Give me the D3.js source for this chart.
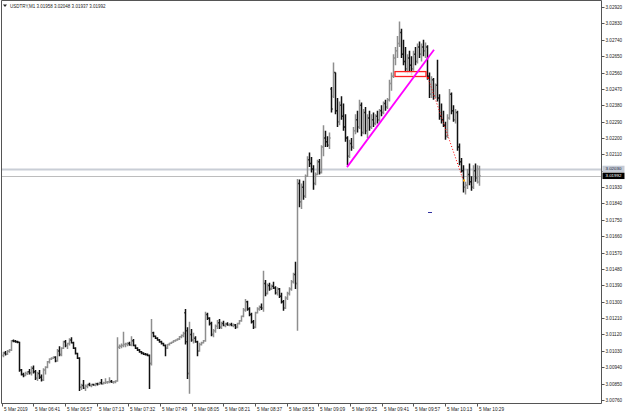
<!DOCTYPE html>
<html><head><meta charset="utf-8">
<script src="https://cdn.jsdelivr.net/npm/d3@7"></script>
<style>html,body{margin:0;padding:0;background:#fff;overflow:hidden}</style>
</head><body>
<svg id="c" width="625" height="416"></svg>
<script>
const symbolTitle = "USDTRY,M1";
const titleValues = ["3.01958", "3.02048", "3.01937", "3.01992"];
const timeLabels = ["5 Mar 2019","5 Mar 06:41","5 Mar 06:57","5 Mar 07:13","5 Mar 07:32","5 Mar 07:49","5 Mar 08:05","5 Mar 08:21","5 Mar 08:37","5 Mar 08:53","5 Mar 09:09","5 Mar 09:25","5 Mar 09:41","5 Mar 09:57","5 Mar 10:13","5 Mar 10:29"];
const priceTicks = ["3.02920","3.02830","3.02740","3.02650","3.02560","3.02470","3.02380","3.02290","3.02200","3.02110","3.02020","3.01930","3.01840","3.01750","3.01660","3.01570","3.01480","3.01390","3.01300","3.01210","3.01120","3.01030","3.00940","3.00850","3.00760"];

const opens = [
3.01005,3.01018,3.01012,3.01028,3.01035,3.01085,3.01083,3.01080,3.01078,3.00925,
3.00900,3.00895,3.00905,3.00915,3.00910,3.00935,3.00915,3.00880,3.00905,3.00885,
3.00870,3.00925,3.00940,3.00970,3.00985,3.00990,3.00995,3.00975,3.01030,3.01010,
3.01045,3.01080,3.01060,3.01070,3.01090,3.01075,3.01045,3.01015,3.00990,3.00830,
3.00840,3.00825,3.00835,3.00845,3.00840,3.00845,3.00842,3.00850,3.00848,3.00855,
3.00850,3.00855,3.00858,3.00860,3.00862,3.00858,3.00860,3.00865,3.01050,3.01055,
3.01060,3.01065,3.01068,3.01070,3.01062,3.01085,3.01060,3.01045,3.01035,3.01025,
3.01018,3.01012,3.01010,3.01005,3.00960,3.01130,3.01110,3.01100,3.01090,3.01080,
3.01070,3.01060,3.01045,3.01065,3.01072,3.01078,3.01085,3.01090,3.01095,3.01108,
3.01115,3.01240,3.01140,3.00905,3.01120,3.01090,3.01100,3.01080,3.01030,3.01065,
3.01075,3.01085,3.01230,3.01210,3.01180,3.01120,3.01140,3.01165,3.01185,3.01160,
3.01180,3.01170,3.01178,3.01172,3.01175,3.01170,3.01172,3.01160,3.01180,3.01195,
3.01220,3.01255,3.01300,3.01260,3.01230,3.01190,3.01160,3.01240,3.01260,3.01270,
3.01265,3.01400,3.01345,3.01390,3.01370,3.01385,3.01375,3.01350,3.01370,3.01330,
3.01300,3.01265,3.01320,3.01345,3.01370,3.01410,3.01450,3.01400,3.01950,3.01850,
3.01930,3.01880,3.01990,3.02080,3.02060,3.02030,3.01950,3.02000,3.02070,3.02010,
3.02150,3.02200,3.02180,3.02160,3.02470,3.02430,3.02560,3.02350,3.02290,3.02380,
3.02320,3.02260,3.02200,3.02100,3.02170,3.02150,3.02240,3.02300,3.02260,3.02380,
3.02230,3.02340,3.02240,3.02310,3.02260,3.02300,3.02280,3.02320,3.02300,3.02350,
3.02340,3.02390,3.02370,3.02410,3.02500,3.02540,3.02640,3.02680,3.02720,3.02780,
3.02660,3.02620,3.02580,3.02640,3.02600,3.02580,3.02660,3.02620,3.02700,3.02660,
3.02700,3.02680,3.02700,3.02540,3.02440,3.02520,3.02430,3.02490,3.02420,3.02320,
3.02300,3.02270,3.02210,3.02310,3.02440,3.02350,3.02300,3.02340,3.02150,3.02070,
3.02020,3.01930,3.01940,3.02000,3.01960,3.01930,3.02020,3.01980,3.01958];
const highs = [
3.01025,3.01030,3.01035,3.01040,3.01090,3.01092,3.01090,3.01085,3.01080,3.00930,
3.00910,3.00915,3.00920,3.00930,3.00945,3.00950,3.00925,3.00915,3.00925,3.00900,
3.00935,3.00945,3.00975,3.00990,3.00995,3.01000,3.01000,3.01040,3.01055,3.01050,
3.01085,3.01090,3.01075,3.01100,3.01105,3.01080,3.01050,3.01020,3.00995,3.00850,
3.00870,3.00845,3.00850,3.00855,3.00850,3.00850,3.00855,3.00855,3.00860,3.00875,
3.00860,3.00880,3.00865,3.00885,3.00870,3.00865,3.00868,3.01105,3.01065,3.01070,
3.01135,3.01075,3.01078,3.01080,3.01110,3.01095,3.01065,3.01050,3.01040,3.01030,
3.01022,3.01018,3.01015,3.01010,3.01205,3.01135,3.01115,3.01105,3.01095,3.01085,
3.01075,3.01065,3.01068,3.01075,3.01080,3.01088,3.01092,3.01100,3.01112,3.01120,
3.01135,3.01260,3.01160,3.01190,3.01150,3.01130,3.01110,3.01085,3.01075,3.01080,
3.01090,3.01245,3.01240,3.01215,3.01190,3.01150,3.01175,3.01200,3.01205,3.01190,
3.01195,3.01185,3.01188,3.01182,3.01185,3.01180,3.01178,3.01185,3.01200,3.01225,
3.01265,3.01315,3.01305,3.01270,3.01240,3.01200,3.01245,3.01270,3.01280,3.01290,
3.01470,3.01420,3.01400,3.01405,3.01395,3.01410,3.01385,3.01380,3.01375,3.01350,
3.01310,3.01330,3.01355,3.01380,3.01420,3.01460,3.01520,3.01975,3.01972,3.01950,
3.01965,3.02000,3.02100,3.02120,3.02095,3.02050,3.02010,3.02080,3.02085,3.02160,
3.02270,3.02240,3.02210,3.02230,3.02480,3.02615,3.02560,3.02420,3.02400,3.02430,
3.02390,3.02330,3.02210,3.02190,3.02200,3.02260,3.02330,3.02350,3.02410,3.02395,
3.02360,3.02370,3.02330,3.02350,3.02330,3.02340,3.02330,3.02350,3.02360,3.02380,
3.02400,3.02410,3.02420,3.02520,3.02560,3.02660,3.02700,3.02760,3.02840,3.02800,
3.02740,3.02700,3.02660,3.02680,3.02650,3.02680,3.02700,3.02720,3.02730,3.02720,
3.02740,3.02725,3.02710,3.02560,3.02540,3.02530,3.02500,3.02630,3.02440,3.02390,
3.02350,3.02290,3.02330,3.02470,3.02450,3.02380,3.02360,3.02350,3.02170,3.02090,
3.02050,3.01960,3.02030,3.02060,3.01990,3.02050,3.02060,3.02050,3.02048];
const lows = [
3.00995,3.01005,3.01008,3.01020,3.01030,3.01078,3.01075,3.01072,3.00915,3.00895,
3.00885,3.00890,3.00898,3.00900,3.00895,3.00905,3.00870,3.00865,3.00875,3.00862,
3.00865,3.00900,3.00935,3.00960,3.00980,3.00985,3.00968,3.00970,3.01000,3.01000,
3.01040,3.01050,3.01040,3.01060,3.01070,3.01040,3.01010,3.00985,3.00810,3.00815,
3.00820,3.00810,3.00825,3.00835,3.00830,3.00838,3.00835,3.00840,3.00842,3.00845,
3.00845,3.00848,3.00850,3.00852,3.00855,3.00850,3.00852,3.00860,3.01040,3.01045,
3.01050,3.01050,3.01055,3.01058,3.01055,3.01055,3.01040,3.01030,3.01020,3.01012,
3.01008,3.01005,3.01000,3.00820,3.00950,3.01105,3.01095,3.01085,3.01075,3.01065,
3.01055,3.01000,3.01040,3.01060,3.01068,3.01075,3.01080,3.01085,3.01090,3.01100,
3.01105,3.01065,3.00875,3.00795,3.01080,3.01070,3.01075,3.01000,3.01025,3.01060,
3.01070,3.01080,3.01200,3.01170,3.01110,3.01105,3.01130,3.01150,3.01150,3.01150,
3.01165,3.01160,3.01168,3.01165,3.01165,3.01160,3.01150,3.01155,3.01175,3.01190,
3.01215,3.01245,3.01250,3.01220,3.01180,3.01150,3.01155,3.01235,3.01250,3.01255,
3.01245,3.01330,3.01340,3.01360,3.01365,3.01370,3.01340,3.01335,3.01320,3.01290,
3.01250,3.01260,3.01310,3.01335,3.01360,3.01400,3.01370,3.01140,3.01820,3.01810,
3.01860,3.01870,3.01985,3.02040,3.02010,3.01915,3.01940,3.01995,3.02000,3.02005,
3.02100,3.02150,3.02150,3.02140,3.02340,3.02420,3.02330,3.02260,3.02270,3.02300,
3.02240,3.02180,3.02050,3.02090,3.02130,3.02140,3.02220,3.02230,3.02250,3.02210,
3.02220,3.02220,3.02200,3.02240,3.02250,3.02260,3.02270,3.02280,3.02290,3.02320,
3.02330,3.02350,3.02360,3.02400,3.02460,3.02530,3.02600,3.02640,3.02700,3.02640,
3.02600,3.02560,3.02550,3.02560,3.02545,3.02570,3.02600,3.02610,3.02640,3.02620,
3.02650,3.02640,3.02520,3.02420,3.02420,3.02410,3.02420,3.02400,3.02300,3.02280,
3.02260,3.02190,3.02200,3.02300,3.02330,3.02290,3.02280,3.02130,3.02050,3.02010,
3.01900,3.01890,3.01920,3.01940,3.01910,3.01920,3.01960,3.01950,3.01937];
const closes = [
3.01018,3.01012,3.01028,3.01035,3.01085,3.01083,3.01080,3.01078,3.00925,3.00900,
3.00895,3.00905,3.00915,3.00910,3.00935,3.00915,3.00880,3.00905,3.00885,3.00870,
3.00925,3.00940,3.00970,3.00985,3.00990,3.00995,3.00975,3.01030,3.01010,3.01045,
3.01080,3.01060,3.01070,3.01090,3.01075,3.01045,3.01015,3.00990,3.00830,3.00840,
3.00825,3.00835,3.00845,3.00840,3.00845,3.00842,3.00850,3.00848,3.00855,3.00850,
3.00855,3.00858,3.00860,3.00862,3.00858,3.00860,3.00865,3.01050,3.01055,3.01060,
3.01065,3.01068,3.01070,3.01062,3.01085,3.01060,3.01045,3.01035,3.01025,3.01018,
3.01012,3.01010,3.01005,3.00960,3.01130,3.01110,3.01100,3.01090,3.01080,3.01070,
3.01060,3.01045,3.01065,3.01072,3.01078,3.01085,3.01090,3.01095,3.01108,3.01115,
3.01125,3.01080,3.00905,3.01120,3.01090,3.01100,3.01080,3.01030,3.01065,3.01075,
3.01085,3.01230,3.01210,3.01180,3.01120,3.01140,3.01165,3.01185,3.01160,3.01180,
3.01170,3.01178,3.01172,3.01175,3.01170,3.01172,3.01160,3.01180,3.01195,3.01220,
3.01255,3.01300,3.01260,3.01230,3.01190,3.01160,3.01240,3.01260,3.01270,3.01265,
3.01400,3.01345,3.01390,3.01370,3.01385,3.01375,3.01350,3.01370,3.01330,3.01300,
3.01265,3.01320,3.01345,3.01370,3.01410,3.01450,3.01400,3.01950,3.01850,3.01930,
3.01880,3.01990,3.02080,3.02060,3.02030,3.01950,3.02000,3.02070,3.02010,3.02150,
3.02200,3.02180,3.02160,3.02200,3.02360,3.02560,3.02350,3.02290,3.02380,3.02320,
3.02260,3.02200,3.02100,3.02170,3.02150,3.02240,3.02300,3.02260,3.02380,3.02230,
3.02340,3.02240,3.02310,3.02260,3.02300,3.02280,3.02320,3.02300,3.02350,3.02340,
3.02390,3.02370,3.02410,3.02500,3.02540,3.02640,3.02680,3.02720,3.02780,3.02660,
3.02620,3.02580,3.02640,3.02600,3.02580,3.02660,3.02620,3.02700,3.02660,3.02700,
3.02680,3.02700,3.02540,3.02440,3.02520,3.02430,3.02490,3.02420,3.02320,3.02300,
3.02270,3.02210,3.02310,3.02440,3.02350,3.02300,3.02340,3.02150,3.02070,3.02020,
3.01930,3.01940,3.02000,3.01960,3.01930,3.02020,3.01980,3.02030,3.01992];

const askPrice = 3.02030;
const bidPrice = 3.01992;
const trendLine = [[172, 3.02040], [215.5, 3.02685]];
const zoneBox = [[196, 3.02565], [211.5, 3.02538]];
const dottedLine = [[212.5, 3.02530], [230, 3.01972]];
const blueMark = [[212.5, 3.01792], [214.5, 3.01792]];

const W = 625, H = 416;
const frame = {left: 1.5, right: 601.5, top: 0.5, bottom: 403.5};
const svg = d3.select("#c");
svg.append("rect").attr("width", W).attr("height", H).attr("fill", "#fff");

const x = d3.scaleLinear().domain([0, opens.length - 1]).range([3, 479]);
const y = d3.scaleLinear().domain([+priceTicks[priceTicks.length - 1], +priceTicks[0]]).range([400, 7]);
const font = "'Liberation Sans', Arial, sans-serif";

// bid / ask lines
svg.append("line").attr("x1", frame.left).attr("x2", frame.right)
  .attr("y1", Math.round(y(askPrice)) + 0.5).attr("y2", Math.round(y(askPrice)) + 0.5)
  .attr("stroke", "#c9ced6").attr("stroke-width", 2);
svg.append("line").attr("x1", frame.left).attr("x2", frame.right)
  .attr("y1", Math.round(y(bidPrice)) + 0.5).attr("y2", Math.round(y(bidPrice)) + 0.5)
  .attr("stroke", "#bdbdbd").attr("stroke-width", 1);

// bars
const bars = d3.range(opens.length).map(i => ({i, o: opens[i], h: highs[i], l: lows[i], c: closes[i]}));
svg.append("g").selectAll("path").data(bars).join("path")
  .attr("d", d => {
    const cx = x(d.i) + 0.5;
    const yo = y(d.o), yc = y(d.c);
    return `M${cx},${y(d.h)}V${y(d.l)}M${cx - 1.2},${yo}H${cx}M${cx},${yc}H${cx + 1.2}`;
  })
  .attr("fill", "none")
  .attr("stroke", d => d.c >= d.o ? "#8e8e8e" : "#111")
  .attr("stroke-width", 1.5);

// zone rectangle
svg.append("rect")
  .attr("x", x(zoneBox[0][0])).attr("y", y(zoneBox[0][1]))
  .attr("width", x(zoneBox[1][0]) - x(zoneBox[0][0]))
  .attr("height", y(zoneBox[1][1]) - y(zoneBox[0][1]))
  .attr("fill", "#fff").attr("fill-opacity", 0.85)
  .attr("stroke", "#ff2020").attr("stroke-width", 1.3);

// trend line
svg.append("line")
  .attr("x1", x(trendLine[0][0])).attr("y1", y(trendLine[0][1]))
  .attr("x2", x(trendLine[1][0])).attr("y2", y(trendLine[1][1]))
  .attr("stroke", "#ff00ff").attr("stroke-width", 1.8);

// dotted projection
svg.append("line")
  .attr("x1", x(dottedLine[0][0])).attr("y1", y(dottedLine[0][1]))
  .attr("x2", x(dottedLine[1][0])).attr("y2", y(dottedLine[1][1]))
  .attr("stroke", "#ff0000").attr("stroke-width", 1).attr("stroke-dasharray", "1,2");
svg.append("rect").attr("x", x(dottedLine[0][0]) - 1).attr("y", y(dottedLine[0][1]) - 1)
  .attr("width", 2).attr("height", 2).attr("fill", "#e00000");
svg.append("rect").attr("x", x(dottedLine[1][0])).attr("y", y(dottedLine[1][1]))
  .attr("width", 2).attr("height", 2).attr("fill", "#ffa500");
svg.append("line")
  .attr("x1", x(blueMark[0][0])).attr("y1", Math.round(y(blueMark[0][1])) + 0.5)
  .attr("x2", x(blueMark[1][0])).attr("y2", Math.round(y(blueMark[1][1])) + 0.5)
  .attr("stroke", "#3030a0").attr("stroke-width", 1);

// frame
const fr = svg.append("g").attr("fill", "none").attr("stroke", "#555").attr("stroke-width", 1);
fr.append("path").attr("d", `M${frame.left},${frame.bottom}V${frame.top}H${frame.right}V${frame.bottom}H${frame.left}`);

// price axis (labels hidden behind the ask/bid badges are skipped, as in the reference)
const pa = svg.append("g");
priceTicks.forEach(t => {
  const yy = Math.round(y(+t)) + 0.5;
  pa.append("line").attr("x1", frame.right).attr("x2", frame.right + 3).attr("y1", yy).attr("y2", yy)
    .attr("stroke", "#555");
  const hidden = Math.abs(y(+t) - y(askPrice)) < 6 || Math.abs(y(+t) - y(bidPrice)) < 6;
  if (!hidden) {
    pa.append("text").attr("x", frame.right + 4).attr("y", yy).attr("dy", "0.35em")
      .attr("font-family", font).attr("font-size", 4.6).attr("fill", "#222").text(t);
  }
});

// ask / bid labels
[[askPrice, "#c5cbd6", "#223"], [bidPrice, "#000", "#fff"]].forEach(([p, bg, fg]) => {
  const yy = y(p);
  svg.append("rect").attr("x", frame.right + 1).attr("y", yy - 3.2).attr("width", 22).attr("height", 6.4).attr("fill", bg);
  svg.append("text").attr("x", frame.right + 4).attr("y", yy).attr("dy", "0.35em")
    .attr("font-family", font).attr("font-size", 4.4).attr("fill", fg).text(p.toFixed(5));
});

// time axis
const labelStepBars = 15.835;
const ta = svg.append("g");
timeLabels.forEach((t, k) => {
  const xx = Math.round(x(k * labelStepBars - 0.65)) + 0.5;
  ta.append("line").attr("x1", xx).attr("x2", xx).attr("y1", frame.bottom).attr("y2", frame.bottom + 3)
    .attr("stroke", "#555");
  ta.append("text").attr("x", xx + 1.5).attr("y", frame.bottom + 6).attr("dy", "0.35em")
    .attr("font-family", font).attr("font-size", 4.7).attr("fill", "#222").text(t);
});

// title
svg.append("path").attr("d", "M3,4.5H7L5,7Z").attr("fill", "#222");
svg.append("text").attr("x", 10).attr("y", 6).attr("dy", "0.35em")
  .attr("font-family", font).attr("font-size", 4.5).attr("fill", "#222")
  .text(symbolTitle + "  " + titleValues.join(" "));
</script>
</body></html>
